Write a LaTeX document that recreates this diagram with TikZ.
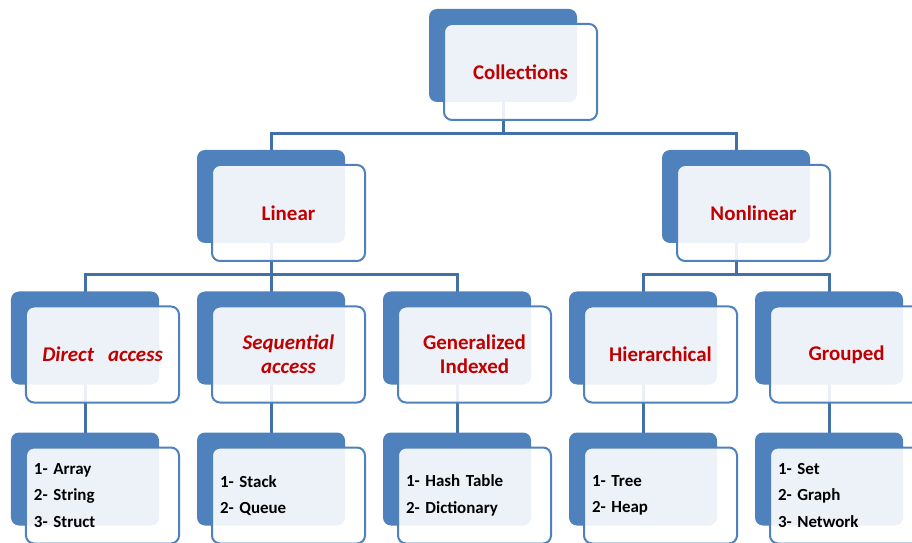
\documentclass[tikz,border=0pt]{standalone}
\usepackage{fontspec}
\setmainfont{Carlito}
\usepackage{xcolor}
\usetikzlibrary{backgrounds}
\definecolor{boxblue}{HTML}{4F81BD}
\definecolor{linkblue}{HTML}{4470A8}
\definecolor{titlered}{HTML}{C00000}
\tikzstyle{backbox} = [rectangle, fill=boxblue, rounded corners=8bp, minimum width=148bp, minimum height=93bp, inner sep=0pt]
\tikzstyle{frontbox} = [rectangle, draw=boxblue, line width=2bp, fill=white, fill opacity=0.9, text opacity=1, rounded corners=8bp, minimum width=153bp, minimum height=96bp, inner xsep=8bp, text width=137bp, align=center, text=titlered, font=\fontsize{21}{24.5}\selectfont\bfseries, xshift=17.5bp, yshift=-16.5bp]
\tikzstyle{accessbox} = [frontbox, font=\fontsize{21}{24.5}\selectfont\bfseries\itshape]
\tikzstyle{leafbox} = [frontbox, align=left, text=black, font=\fontsize{17}{26.5}\selectfont\bfseries]
\tikzstyle{link} = [draw=linkblue, line width=3bp]

\begin{document}
\begin{tikzpicture}[x=1bp,y=-1bp]
    \useasboundingbox (0,0) rectangle (912,543);
    % Root and categories
    \node [backbox] (collb) at (503,55.5) {};
    \node [frontbox] (coll) at (collb) {Collections};
    \node [backbox] (linb) at (271,196.5) {};
    \node [frontbox] (lin) at (linb) {Linear};
    \node [backbox] (nlinb) at (736,196.5) {};
    \node [frontbox] (nlin) at (nlinb) {Nonlinear};
    % Kinds
    \node [backbox] (dirb) at (85,338) {};
    \node [accessbox] (dir) at (dirb) {Direct\ \ access};
    \node [backbox] (seqb) at (271,338) {};
    \node [accessbox] (seq) at (seqb) {Sequential\\access};
    \node [backbox] (genb) at (457,338) {};
    \node [frontbox] (gen) at (genb) {Generalized\\Indexed};
    \node [backbox] (hierb) at (643,338) {};
    \node [frontbox] (hier) at (hierb) {Hierarchical};
    \node [backbox] (grpb) at (829,338) {};
    \node [frontbox] (grp) at (grpb) {Grouped};
    % Examples
    \node [backbox] (dirlb) at (85,479) {};
    \node [leafbox] (dirl) at (dirlb) {1- Array\\2- String\\3- Struct};
    \node [backbox] (seqlb) at (271,479) {};
    \node [leafbox] (seql) at (seqlb) {1- Stack\\2- Queue};
    \node [backbox] (genlb) at (457,479) {};
    \node [leafbox] (genl) at (genlb) {1- Hash Table\\2- Dictionary};
    \node [backbox] (hierlb) at (643,479) {};
    \node [leafbox] (hierl) at (hierlb) {1- Tree\\2- Heap};
    \node [backbox] (grplb) at (829,479) {};
    \node [leafbox] (grpl) at (grplb) {1- Set\\2- Graph\\3- Network};
    % Draw edges
    \begin{pgfonlayer}{background}
    \coordinate (bus1) at (0,134);
    \coordinate (bus2) at (0,275);
    \path [link] (collb.center) -- (collb.center |- bus1) -| (linb.center);
    \path [link] (collb.center |- bus1) -| (nlinb.center);
    \path [link] (linb.center) -- (linb.center |- bus2) -| (dirb.center);
    \path [link] (linb.center |- bus2) -| (genb.center);
    \path [link] (linb.center |- bus2) -- (seqb.center);
    \path [link] (nlinb.center) -- (nlinb.center |- bus2) -| (hierb.center);
    \path [link] (nlinb.center |- bus2) -| (grpb.center);
    \path [link] (dirb.center) -- (dirlb.center);
    \path [link] (seqb.center) -- (seqlb.center);
    \path [link] (genb.center) -- (genlb.center);
    \path [link] (hierb.center) -- (hierlb.center);
    \path [link] (grpb.center) -- (grplb.center);
    \end{pgfonlayer}
\end{tikzpicture}
\end{document}
